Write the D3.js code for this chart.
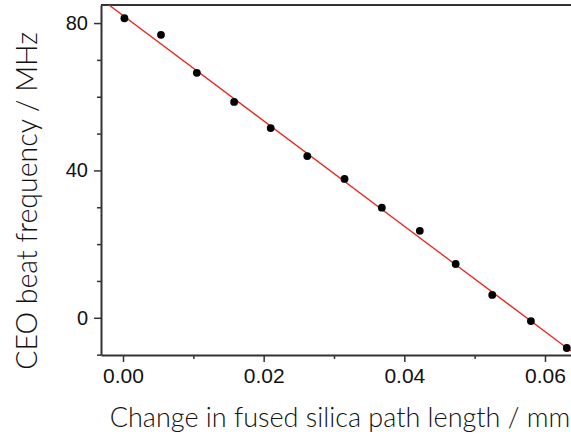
<!DOCTYPE html>
<html>
<head>
<meta charset="utf-8">
<script src="https://cdn.jsdelivr.net/npm/d3@7"></script>
<style>
  body { margin: 0; background: #fff; }
  svg { display: block; font-family: "Lato", "Open Sans", sans-serif; font-weight: 300; }
</style>
</head>
<body>
<div id="chart"></div>
<script>
// measured points: change in fused silica path length (mm) vs CEO beat (MHz)
var pathLength = [0.0002, 0.0054, 0.0105, 0.0158, 0.0210, 0.0262, 0.0315,
                  0.0368, 0.0422, 0.0473, 0.0525, 0.0580, 0.0631];
var ceoFreq = [81.3, 76.8, 66.5, 58.6, 51.5, 43.9, 37.7,
               29.9, 23.6, 14.6, 6.2, -0.9, -8.2];

// linear fit: intercept (MHz), slope (MHz / mm)
var fitIntercept = 82.05;
var fitSlope = -1430;

var xTicks = [0, 0.02, 0.04, 0.06];
var xMinor = [0.01, 0.03, 0.05];
var yTicks = [0, 40, 80];
var yMinor = [-10, 10, 20, 30, 50, 60, 70];

const w = 571;
const h = 436;
const plotLeft = 101, plotRight = 571, plotTop = 5, plotBottom = 355;

var svg = d3.select("#chart").append("svg")
  .attr("width", w)
  .attr("height", h);

var x = d3.scaleLinear().domain([-0.00313, 0.0637]).range([plotLeft, plotRight]);
var y = d3.scaleLinear().domain([-10.1, 84.9]).range([plotBottom, plotTop]);

svg.append("clipPath").attr("id", "plot-clip")
  .append("rect")
  .attr("x", plotLeft).attr("y", plotTop)
  .attr("width", plotRight - plotLeft).attr("height", plotBottom - plotTop);

var axisColor = "#333";
var textColor = "#111";

// x axis
var xAxis = svg.append("g")
  .attr("transform", "translate(0," + plotBottom + ")")
  .call(d3.axisBottom(x).tickValues(xTicks).tickFormat(d3.format(".2f")).tickSize(7).tickSizeOuter(0));
svg.append("g")
  .attr("transform", "translate(0," + plotBottom + ")")
  .call(d3.axisBottom(x).tickValues(xMinor).tickFormat("").tickSize(4).tickSizeOuter(0))
  .select(".domain").remove();

// y axis
var yAxis = svg.append("g")
  .attr("transform", "translate(" + plotLeft + ",0)")
  .call(d3.axisLeft(y).tickValues(yTicks).tickSize(7).tickSizeOuter(0));
svg.append("g")
  .attr("transform", "translate(" + plotLeft + ",0)")
  .call(d3.axisLeft(y).tickValues(yMinor).tickFormat("").tickSize(4).tickSizeOuter(0))
  .select(".domain").remove();

svg.selectAll(".domain").attr("stroke", axisColor).attr("stroke-width", 2);
svg.selectAll(".tick line").attr("stroke", axisColor).attr("stroke-width", 1.5);

xAxis.selectAll("text")
  .attr("fill", textColor)
  .style("font-size", "21px")
  .attr("dy", "0.71em")
  .attr("y", 13);
yAxis.selectAll("text")
  .attr("fill", textColor)
  .style("font-size", "20px")
  .attr("x", -13);

// top frame line
svg.append("line")
  .attr("x1", plotLeft).attr("x2", plotRight)
  .attr("y1", plotTop).attr("y2", plotTop)
  .attr("stroke", axisColor).attr("stroke-width", 2);

// fit line
var plot = svg.append("g").attr("clip-path", "url(#plot-clip)");
var fitX = x.domain();
plot.append("path")
  .datum(fitX)
  .attr("d", d3.line()
    .x(d => x(d))
    .y(d => y(fitIntercept + fitSlope * d)))
  .attr("fill", "none")
  .attr("stroke", "#e8251f")
  .attr("stroke-width", 1.3);

// data points
svg.selectAll(".pt")
  .data(pathLength)
  .enter()
  .append("circle")
  .attr("class", "pt")
  .attr("cx", d => x(d))
  .attr("cy", (d, i) => y(ceoFreq[i]))
  .attr("r", 3.9)
  .attr("fill", "#000");

// axis titles
svg.append("text")
  .attr("x", 340)
  .attr("y", 427)
  .attr("text-anchor", "middle")
  .attr("fill", textColor)
  .style("font-size", "27px")
  .text("Change in fused silica path length / mm");

svg.append("text")
  .attr("transform", "translate(37,201) rotate(-90)")
  .attr("text-anchor", "middle")
  .attr("fill", textColor)
  .style("font-size", "28.5px")
  .text("CEO beat frequency / MHz");
</script>
</body>
</html>
